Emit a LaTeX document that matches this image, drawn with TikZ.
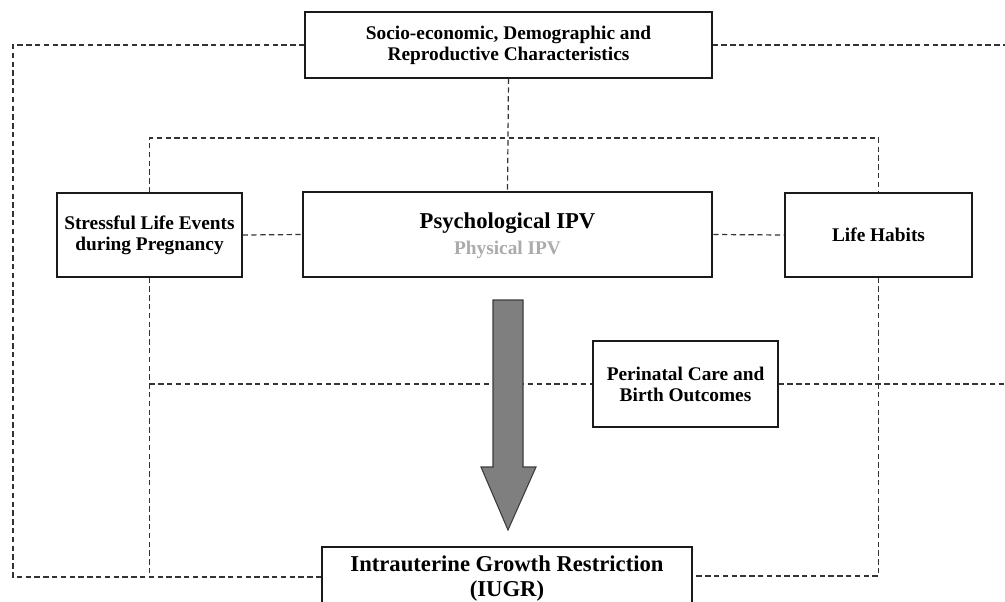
\documentclass[tikz,border=0pt]{standalone}
\usepackage{fontspec}
\setmainfont{Liberation Serif}
\usetikzlibrary{backgrounds}
\definecolor{boxline}{HTML}{1A1A1A}
\definecolor{dashcol}{HTML}{333333}
\definecolor{arrowfill}{HTML}{7F7F7F}
\definecolor{arrowline}{HTML}{3C3C3C}
\definecolor{physgray}{HTML}{ABABAB}
\begin{document}
\begin{tikzpicture}[x=0.75pt,y=-0.75pt,
  box/.style={draw=boxline, line width=0.9pt, fill=white, align=center, inner sep=0pt,
    font=\bfseries\fontsize{14.5}{15.75}\selectfont},
  bigbox/.style={box, line width=1.9pt},
  dashline/.style={draw=dashcol, line width=0.9pt, dash pattern=on 4pt off 2.6pt},
  txt/.style={align=center, inner sep=0pt, font=\bfseries\fontsize{17}{18.5}\selectfont},
  blockarrow/.style={fill=arrowfill, draw=arrowline, line width=0.8pt, line join=miter}
]
\useasboundingbox (0,0) rectangle (1005,601);

% boxes
\node[box, minimum width=305.25pt, minimum height=49.5pt] (socio) at (508.5,45)
  {Socio-economic, Demographic and\\Reproductive Characteristics};
\node[box, minimum width=138.75pt, minimum height=63pt] (stress) at (149.5,235)
  {Stressful Life Events\\during Pregnancy};
\node[bigbox, minimum width=306.75pt, minimum height=63.75pt] (psych) at (507.5,234.5) {};
\node[txt] (psychtxt) at (507.5,223) {Psychological IPV};
\node[txt, text=physgray, font=\bfseries\fontsize{14.5}{15.75}\selectfont] (phystxt) at (507.5,250) {Physical IPV};
\node[box, minimum width=140.25pt, minimum height=63pt] (life) at (878.5,235) {Life Habits};
\node[box, minimum width=138.75pt, minimum height=64.5pt] (peri) at (685.5,384)
  {Perinatal Care and\\Birth Outcomes};
\node[bigbox, minimum width=277.5pt, minimum height=60pt] (iugr) at (507,587) {};
\node[txt] (iugrtxt) at (507,578.5) {Intrauterine Growth Restriction\\(IUGR)};

% free corners
\coordinate (bl) at (13,577);
\coordinate (rt) at (1005,45);
\coordinate (hb) at (0,138);
\coordinate (br) at (878,576);
\coordinate (prt) at (1005,384);

\begin{scope}[on background layer]
  % dashed connectors
  \draw[dashline] (socio.west) -| (bl) -- (iugr.west |- bl);
  \draw[dashline] (socio.east) -- (socio.east -| rt);
  \draw[dashline] (socio.south) -- (psych.north);
  \draw[dashline] (stress.north) -- (stress.north |- hb) -- (life.north |- hb) -- (life.north);
  \draw[dashline] (stress.east) -- (psych.west);
  \draw[dashline] (psych.east) -- (life.west);
  \draw[dashline] (stress.south) -- (stress.south |- bl);
  \draw[dashline] (stress.south |- peri.west) -- (peri.west);
  \draw[dashline] (peri.east) -- (prt);
  \draw[dashline] (life.south) -- (life.south |- br) -- (iugr.east |- br);
  % block arrow
  \draw[blockarrow] (493,300) -- (523,300) -- (523,467) -- (536,467) -- (508,530)
    -- (481,467) -- (493,467) -- cycle;
\end{scope}
\end{tikzpicture}
\end{document}
